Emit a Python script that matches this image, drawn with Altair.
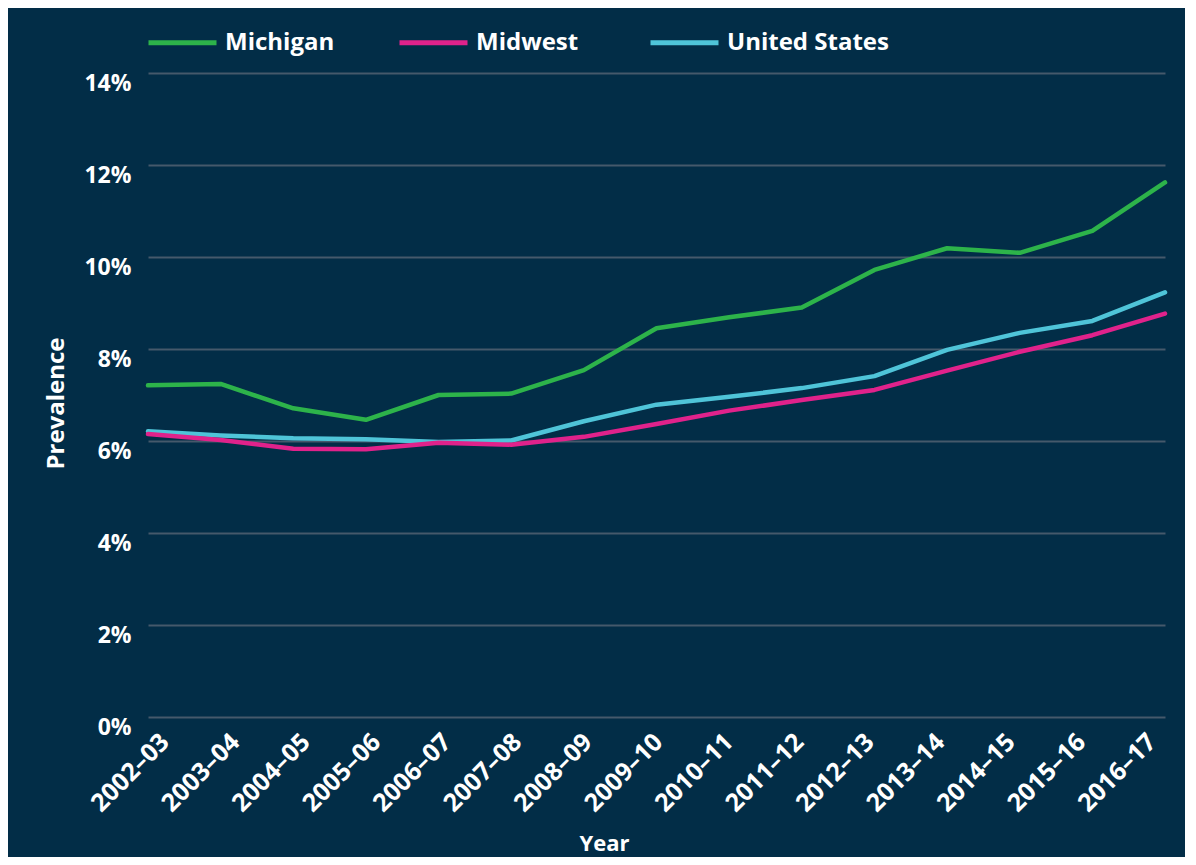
import altair as alt
import pandas as pd

years = ["2002–03", "2003–04", "2004–05", "2005–06", "2006–07", "2007–08", "2008–09",
         "2009–10", "2010–11", "2011–12", "2012–13", "2013–14", "2014–15", "2015–16", "2016–17"]
michigan = [7.21, 7.24, 6.71, 6.46, 7.00, 7.03, 7.54, 8.45, 8.69, 8.90, 9.72, 10.19, 10.09, 10.57, 11.62]
midwest = [6.15, 6.02, 5.83, 5.82, 5.96, 5.92, 6.09, 6.37, 6.66, 6.89, 7.11, 7.53, 7.94, 8.30, 8.77]
united_states = [6.21, 6.12, 6.06, 6.04, 5.98, 6.01, 6.43, 6.79, 6.96, 7.15, 7.41, 7.98, 8.35, 8.61, 9.23]
series = ["Michigan", "Midwest", "United States"]
colors = ["#2db34a", "#e0228b", "#4fc4d8"]
y_ticks = [0, 2, 4, 6, 8, 10, 12, 14]

rows = []
for name, vals in zip(series, [michigan, midwest, united_states]):
    for yr, v in zip(years, vals):
        rows.append({"year": yr, "series": name, "value": v})
df = pd.DataFrame(rows)
label_df = pd.DataFrame({"year": years})

FONT = "Open Sans"
BG = "#022d47"

base = alt.Chart(df).mark_line(strokeWidth=4.5, strokeCap="round", strokeJoin="round").encode(
    x=alt.X("year:N", sort=years, scale=alt.Scale(type="point", padding=0), axis=None),
    y=alt.Y("value:Q", scale=alt.Scale(domain=[0, 14], nice=False),
            axis=alt.Axis(title="Prevalence", values=y_ticks, labelExpr="datum.value + '%'",
                          labelFontSize=23, labelColor="white", labelFont=FONT, labelFontWeight="bold",
                          labelPadding=17, labelBaseline="middle", labelOffset=10,
                          ticks=False, domain=False, grid=True, gridColor="#45596b", gridWidth=2,
                          titleFont=FONT, titleFontSize=24, titleFontWeight="bold", titleColor="white",
                          titleAngle=-90, titleX=-92, titleY=330, titleAlign="center",
                          titleBaseline="middle")),
    color=alt.Color("series:N", scale=alt.Scale(domain=series, range=colors),
                    legend=alt.Legend(title=None, orient="none", legendX=-2, legendY=-67,
                                      direction="horizontal", columns=3, gridAlign="all",
                                      columnPadding=2, symbolType="stroke", symbolSize=4624,
                                      symbolStrokeWidth=5, labelFontSize=24, labelColor="white",
                                      labelFont=FONT, labelFontWeight="bold", labelOffset=6,
                                      labelLimit=400, padding=0)),
)

layers = [base.transform_filter(alt.datum.series == s) for s in ["United States", "Michigan", "Midwest"]]

labels = alt.Chart(label_df).mark_point(opacity=0).encode(
    x=alt.X("year:N", sort=years, scale=alt.Scale(type="point", padding=0.213),
            axis=alt.Axis(title="Year", labelAngle=-45, labelAlign="right", labelBaseline="top",
                          labelPadding=12, labelOffset=-7, labelFontSize=25, labelColor="white",
                          labelFont=FONT, labelFontWeight="bold", ticks=False, domain=False, grid=False,
                          titleFont=FONT, titleFontSize=22, titleFontWeight="bold", titleColor="white",
                          titleX=456, titleY=126, titleAlign="center", titleBaseline="middle")),
)

chart = alt.layer(*layers, labels).resolve_scale(x="independent").properties(
    width=1017, height=644,
    padding={"left": 140, "top": 65, "right": 20, "bottom": 140},
    autosize=alt.AutoSizeParams(type="none"),
    background=BG,
).configure_view(strokeWidth=0)

chart.save("out.html", embed_options={"renderer": "svg", "actions": False})
